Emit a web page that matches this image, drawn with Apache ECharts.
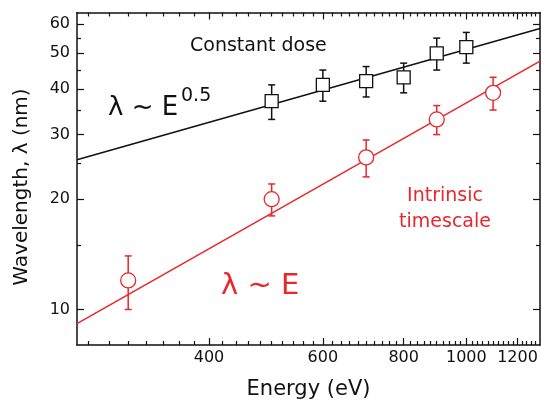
<!DOCTYPE html>
<html>
<head>
<meta charset="utf-8">
<script src="https://cdn.jsdelivr.net/npm/echarts@6.0.0/dist/echarts.min.js"></script>
<style>
html, body { margin: 0; padding: 0; background: #fff; }
#chart { width: 541px; height: 405px; }
</style>
</head>
<body>
<div id="chart"></div>
<script>
// constant dose (black squares)
var energyDose = [500, 600, 700, 800, 900, 1000];
var lambdaDose = [37, 41, 42, 43, 50, 52];
var errDose = [4, 4, 4, 4, 5, 5];

// intrinsic timescale (red circles)
var energyIntr = [300, 500, 700, 900, 1100];
var lambdaIntr = [12, 20, 26, 33, 39];
var errIntr = [2, 2, 3, 3, 4];

// fit lines, end points read at the plot edges
var fitDoseX = [250, 1300];
var fitDoseY = [25.6, 58.4];
var fitIntrX = [250, 1300];
var fitIntrY = [9.15, 47.6];

// ticks
var xMajor = [400, 600, 800, 1000, 1200];
var xMinor = [260, 280, 300, 320, 340, 360, 380, 420, 440, 460, 480, 500, 520, 540, 560, 580,
    620, 640, 660, 680, 700, 720, 740, 760, 780, 820, 840, 860, 880, 900, 920, 940, 960, 980,
    1020, 1040, 1060, 1080, 1100, 1120, 1140, 1160, 1180, 1220, 1240, 1260, 1280];
var yMajor = [10, 20, 30, 40, 50, 60];
var yMinor = [15, 25, 35, 45, 55];

var X_MIN = 250, X_MAX = 1300;
var Y_MIN = 8, Y_MAX = 64.6;

var RED = '#e8262b';
var BLACK = '#111111';
var FONT = '"DejaVu Sans", sans-serif';

function pairs(xs, ys) {
    var out = [];
    for (var i = 0; i < xs.length; i++) out.push([xs[i], ys[i]]);
    return out;
}

function errData(xs, ys, es) {
    var out = [];
    for (var i = 0; i < xs.length; i++) out.push([xs[i], ys[i] - es[i], ys[i] + es[i]]);
    return out;
}

function makeAxis(dim, pos, ticks, len, withLabel, withLine) {
    return {
        type: 'log',
        logBase: 10,
        position: pos,
        min: dim === 'x' ? X_MIN : Y_MIN,
        max: dim === 'x' ? X_MAX : Y_MAX,
        splitLine: { show: false },
        axisLine: { show: withLine, onZero: false, lineStyle: { color: BLACK, width: 1.5 } },
        axisTick: { show: true, inside: true, length: len, customValues: ticks,
            lineStyle: { color: BLACK, width: 1.2 } },
        axisLabel: { show: withLabel, customValues: ticks, fontFamily: FONT, fontSize: 16,
            color: BLACK, margin: dim === 'x' ? 5 : 7,
            formatter: function (v) { return String(Math.round(v)); } },
        minorTick: { show: false },
        silent: true
    };
}

var xAxes = [
    makeAxis('x', 'bottom', xMajor, 7, true, true),
    makeAxis('x', 'bottom', xMinor, 4, false, false),
    makeAxis('x', 'top', xMajor, 7, false, true),
    makeAxis('x', 'top', xMinor, 4, false, false)
];
xAxes[0].name = 'Energy (eV)';
xAxes[0].nameLocation = 'middle';
xAxes[0].nameGap = 34;
xAxes[0].nameTextStyle = { fontFamily: FONT, fontSize: 21, color: BLACK };

var yAxes = [
    makeAxis('y', 'left', yMajor, 7, true, true),
    makeAxis('y', 'left', yMinor, 4, false, false),
    makeAxis('y', 'right', yMajor, 7, false, true),
    makeAxis('y', 'right', yMinor, 4, false, false)
];

function errRender(color) {
    return function (params, api) {
        var x = api.value(0);
        var lo = api.coord([x, api.value(1)]);
        var hi = api.coord([x, api.value(2)]);
        var w = 3.5;
        var st = { stroke: color, lineWidth: 1.5 };
        return {
            type: 'group',
            children: [
                { type: 'line', shape: { x1: lo[0], y1: lo[1], x2: hi[0], y2: hi[1] }, style: st },
                { type: 'line', shape: { x1: lo[0] - w, y1: lo[1], x2: lo[0] + w, y2: lo[1] }, style: st },
                { type: 'line', shape: { x1: hi[0] - w, y1: hi[1], x2: hi[0] + w, y2: hi[1] }, style: st }
            ]
        };
    };
}

var myChart = echarts.init(document.getElementById('chart'));
var option = {
    animation: false,
    backgroundColor: '#fff',
    grid: { left: 77, right: 1, top: 12.5, bottom: 57, containLabel: false },
    xAxis: xAxes,
    yAxis: yAxes,
    series: [
        {
            type: 'line', data: pairs(fitDoseX, fitDoseY), showSymbol: false, symbol: 'none',
            lineStyle: { color: BLACK, width: 1.5 }, z: 2
        },
        {
            type: 'line', data: pairs(fitIntrX, fitIntrY), showSymbol: false, symbol: 'none',
            lineStyle: { color: RED, width: 1.5 }, z: 2
        },
        {
            type: 'custom', data: errData(energyDose, lambdaDose, errDose),
            renderItem: errRender(BLACK), encode: { x: 0, y: [1, 2] }, z: 3
        },
        {
            type: 'custom', data: errData(energyIntr, lambdaIntr, errIntr),
            renderItem: errRender(RED), encode: { x: 0, y: [1, 2] }, z: 3
        },
        {
            type: 'scatter', data: pairs(energyDose, lambdaDose), symbol: 'rect', symbolSize: 13,
            itemStyle: { color: '#fff', borderColor: BLACK, borderWidth: 1.3, opacity: 1 }, z: 4
        },
        {
            type: 'scatter', data: pairs(energyIntr, lambdaIntr), symbol: 'circle', symbolSize: 15,
            itemStyle: { color: '#fff', borderColor: RED, borderWidth: 1.3, opacity: 1 }, z: 4
        }
    ],
    graphic: [
        { type: 'text', x: 22, y: 187, rotation: Math.PI / 2, style: { text: 'Wavelength, λ (nm)',
            font: '20px ' + FONT, fill: BLACK, align: 'center', verticalAlign: 'middle' } },
        { type: 'text', x: 190, y: 46, style: { text: 'Constant dose', font: '19px ' + FONT,
            fill: BLACK, align: 'left', verticalAlign: 'middle' } },
        { type: 'text', x: 108, y: 108, style: { text: 'λ ~ E', font: '26px ' + FONT,
            fill: BLACK, align: 'left', verticalAlign: 'middle' } },
        { type: 'text', x: 181, y: 96, style: { text: '0.5', font: '19px ' + FONT,
            fill: BLACK, align: 'left', verticalAlign: 'middle' } },
        { type: 'text', x: 445, y: 196, style: { text: 'Intrinsic', font: '19px ' + FONT,
            fill: RED, align: 'center', verticalAlign: 'middle' } },
        { type: 'text', x: 445, y: 222, style: { text: 'timescale', font: '19px ' + FONT,
            fill: RED, align: 'center', verticalAlign: 'middle' } },
        { type: 'text', x: 221, y: 286, style: { text: 'λ ~ E', font: '29px ' + FONT,
            fill: RED, align: 'left', verticalAlign: 'middle' } }
    ]
};
if (option && typeof option === 'object') {
    myChart.setOption(option, true);
}
</script>
</body>
</html>
